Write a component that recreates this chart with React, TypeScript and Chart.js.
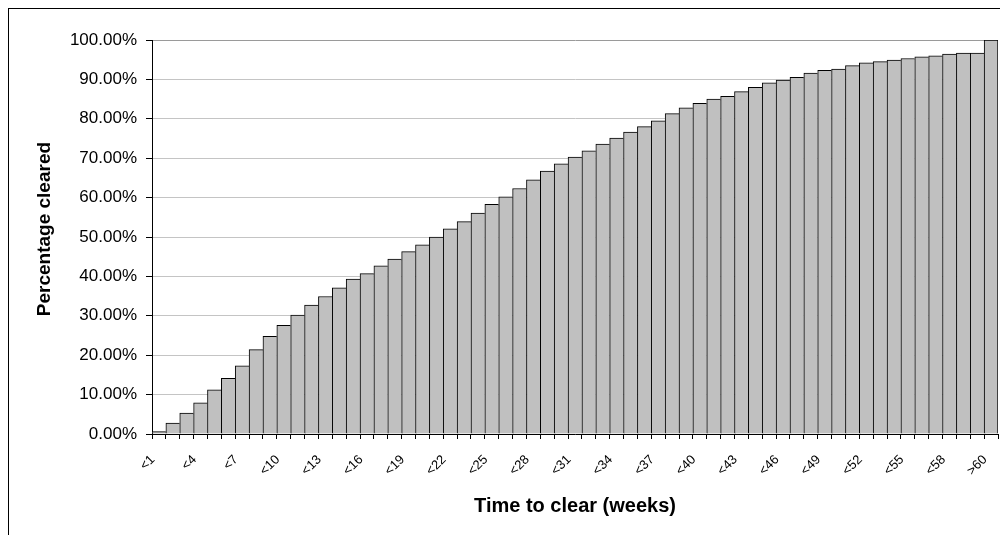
import React, { useEffect, useRef } from "react";
import { Chart, registerables } from "chart.js";

Chart.register(...registerables);

const categories: string[] = [
  "<1", "<2", "<3", "<4", "<5", "<6", "<7", "<8", "<9", "<10",
  "<11", "<12", "<13", "<14", "<15", "<16", "<17", "<18", "<19", "<20",
  "<21", "<22", "<23", "<24", "<25", "<26", "<27", "<28", "<29", "<30",
  "<31", "<32", "<33", "<34", "<35", "<36", "<37", "<38", "<39", "<40",
  "<41", "<42", "<43", "<44", "<45", "<46", "<47", "<48", "<49", "<50",
  "<51", "<52", "<53", "<54", "<55", "<56", "<57", "<58", "<59", "<60",
  ">60",
];

const percentCleared: number[] = [
  0.6, 2.8, 5.3, 7.9, 11.2, 14.1, 17.3, 21.4, 24.8, 27.6,
  30.2, 32.7, 34.9, 37.1, 39.3, 40.7, 42.7, 44.4, 46.3, 48.0,
  50.0, 52.1, 53.9, 56.1, 58.3, 60.2, 62.3, 64.5, 66.7, 68.6,
  70.3, 71.9, 73.6, 75.1, 76.6, 78.0, 79.5, 81.3, 82.8, 83.9,
  85.0, 85.7, 86.9, 88.0, 89.1, 89.8, 90.5, 91.6, 92.3, 92.6,
  93.5, 94.2, 94.5, 94.9, 95.3, 95.7, 96.0, 96.4, 96.7, 96.7,
  100.0,
];

const yTickValues: number[] = [0, 10, 20, 30, 40, 50, 60, 70, 80, 90, 100];

const FONT = "'Liberation Sans', Arial, sans-serif";

export default function App() {
  const canvasRef = useRef<HTMLCanvasElement | null>(null);

  useEffect(() => {
    const canvas = canvasRef.current;
    if (!canvas) return;
    const last = percentCleared.length - 1;
    const chart = new Chart(canvas, {
      type: "bar",
      data: {
        labels: categories,
        datasets: [
          {
            data: percentCleared,
            backgroundColor: "#c0c0c0",
            borderColor: "#000000",
            borderWidth: (ctx: any) =>
              ctx.dataIndex === last
                ? { left: 1, top: 1, right: 1, bottom: 0 }
                : { left: 1, top: 1, right: 0, bottom: 0 },
            borderSkipped: false,
            barPercentage: 1,
            categoryPercentage: 1,
          },
        ],
      },
      options: {
        responsive: false,
        animation: false,
        events: [],
        layout: { padding: { left: 21, top: 31, right: 19, bottom: 25 } },
        plugins: {
          legend: { display: false },
          tooltip: { enabled: false },
          title: { display: false },
        },
        scales: {
          x: {
            type: "category",
            offset: true,
            border: { display: true, color: "#000000", width: 1 },
            grid: {
              display: true,
              drawOnChartArea: false,
              drawTicks: true,
              tickLength: 5,
              color: "#000000",
              offset: true,
            },
            ticks: {
              autoSkip: false,
              minRotation: 45,
              maxRotation: 45,
              padding: 13,
              labelOffset: -6,
              color: "#000000",
              font: { family: FONT, size: 13 },
              callback: (_v: any, idx: number) => (idx % 3 === 0 ? categories[idx] : ""),
            },
            title: {
              display: true,
              text: "Time to clear (weeks)",
              color: "#000000",
              font: { family: FONT, size: 20, weight: "bold" },
              padding: { top: 4, bottom: 4 },
            },
            afterFit: (s: any) => {
              s.height = 88;
            },
          },
          y: {
            min: 0,
            max: 100,
            border: { display: true, color: "#000000", width: 1 },
            grid: {
              color: (ctx: any) => (ctx.tick && ctx.tick.value === 100 ? "#9a9a9a" : "#c4c4c4"),
              tickColor: "#000000",
              tickLength: 6,
              lineWidth: 1,
            },
            afterBuildTicks: (s: any) => {
              s.ticks = yTickValues.map((v) => ({ value: v }));
            },
            ticks: {
              padding: 9,
              color: "#000000",
              font: { family: FONT, size: 17 },
              callback: (v: any) => `${Number(v).toFixed(2)}%`,
            },
            title: {
              display: true,
              text: "   Percentage cleared",
              color: "#000000",
              font: { family: FONT, size: 19, weight: "bold" },
              padding: { top: 3, bottom: 4 },
            },
            afterFit: (s: any) => {
              s.width = 122;
            },
          },
        },
      },
    } as any);
    return () => chart.destroy();
  }, []);

  return (
    <div
      style={{
        position: "fixed",
        left: 0,
        top: 0,
        width: 1000,
        height: 535,
        overflow: "hidden",
        background: "#ffffff",
      }}
    >
      <div
        style={{
          position: "absolute",
          left: 8,
          top: 8,
          width: 1010,
          height: 540,
          border: "1px solid #000000",
          boxSizing: "border-box",
          background: "#ffffff",
        }}
      >
        <canvas ref={canvasRef} width={1008} height={538} style={{ display: "block" }} />
      </div>
    </div>
  );
}
